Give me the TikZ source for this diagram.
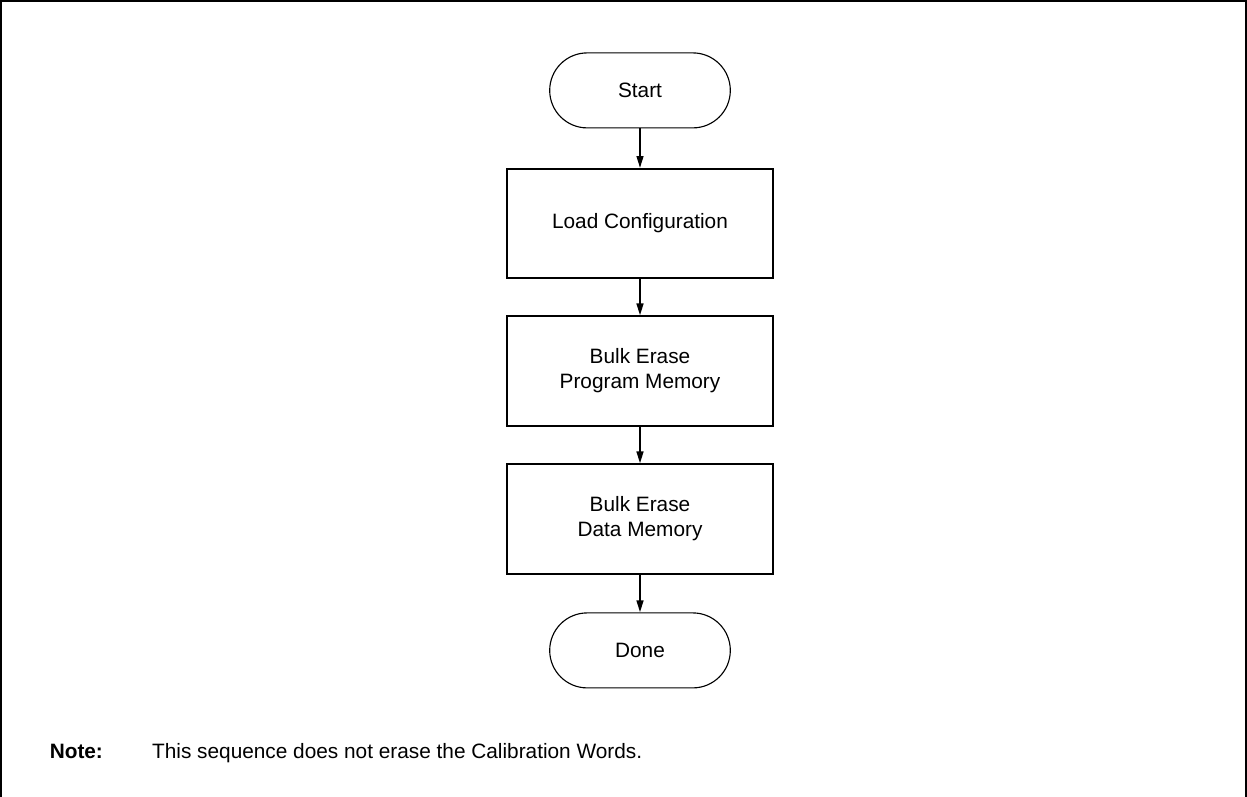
\documentclass[tikz,border=0pt]{standalone}
\usepackage{fontspec}
\setmainfont{Liberation Sans}
\usetikzlibrary{arrows.meta, shapes.misc}
\newcommand\cx{16}
\newcommand\bw{6.65}

\begin{document}
\begin{tikzpicture}[font=\fontsize{14.8}{17.8}\selectfont,
    term/.style={rounded rectangle, draw, line width=0.8pt, minimum width=4.75cm, minimum height=1.875cm},
    proc/.style={rectangle, draw, line width=1.4pt, minimum width=\bw cm, minimum height=2.73cm, align=center},
    flow/.style={-{Triangle[length=0.3cm, width=0.17cm]}, line width=1.4pt}]

    \useasboundingbox (0, 0) rectangle (31.175, -19.925);

    % Frame (open at the bottom)
    \draw[line width=1.4pt] (0.03, -19.925) -- (0.03, -0.03) -- (31.14, -0.03) -- (31.14, -19.925);

    % Flow
    \node at (\cx, -2.26) [term] (start) {Start};
    \node at (\cx, -5.59) [proc] (load) {Load Configuration};
    \node at (\cx, -9.275) [proc] (erasepm) {Bulk Erase\\Program Memory};
    \node at (\cx, -12.975) [proc] (erasedm) {Bulk Erase\\Data Memory};
    \node at (\cx, -16.26) [term] (done) {Done};

    \draw[flow] (start.south) -- (load.north);
    \draw[flow] (load.south) -- (erasepm.north);
    \draw[flow] (erasepm.south) -- (erasedm.north);
    \draw[flow] (erasedm.south) -- (done.north);

    % Note
    \node at (1.12, -18.97) [anchor=base west] (notelabel) {\textbf{Note:}};
    \node at (3.68, -18.97) [anchor=base west] (notetext) {This sequence does not erase the Calibration Words.};

\end{tikzpicture}
\end{document}
